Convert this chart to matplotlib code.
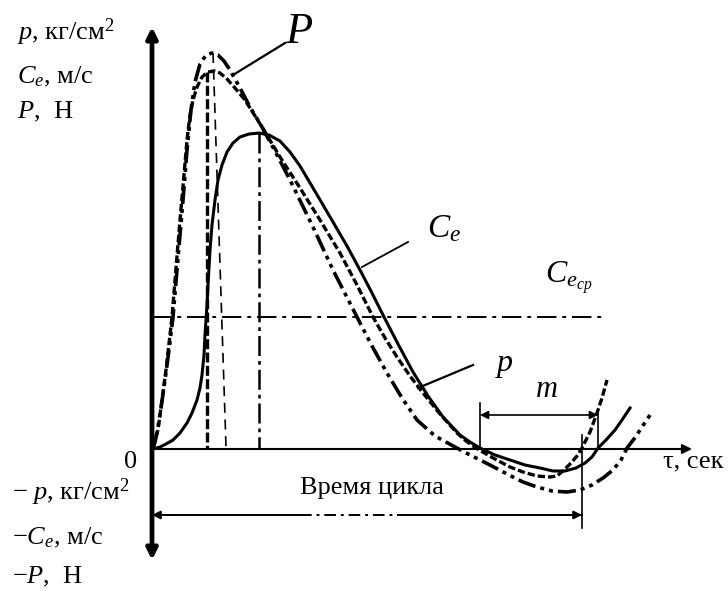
import matplotlib
matplotlib.use("Agg")
import matplotlib.pyplot as plt

plt.rcParams['font.family'] = ['Liberation Serif', 'DejaVu Serif']
plt.rcParams['mathtext.fontset'] = 'custom'
plt.rcParams['mathtext.rm'] = 'Liberation Serif'
plt.rcParams['mathtext.it'] = 'Liberation Serif:italic'
plt.rcParams['mathtext.bf'] = 'Liberation Serif:bold'

# ---- data (arbitrary units: time tau, value) ----
P_t = [0.1, 0.3, 0.5, 0.9, 1.3, 1.7, 2.1, 2.6, 3.1, 3.5, 3.9, 4.3, 4.8, 5.4, 6.0, 6.6, 7.2, 7.8,
       8.8, 9.8, 11.0, 12.4, 13.8, 16.1, 18.1, 20.5, 22.0, 23.5, 25.0, 26.5, 28.3, 30.3, 32.0,
       33.8, 35.5, 37.1, 38.5, 40.0, 41.5, 42.8, 44.0, 45.1, 46.1, 46.9, 47.5, 48.2, 48.8, 49.8]
P_v = [0.0, 0.7, 1.6, 4.1, 6.9, 9.9, 13.2, 19.1, 24.9, 29.9, 33.9, 36.7, 38.5, 39.4, 39.6, 39.4,
       38.8, 37.9, 36.1, 34.2, 32.2, 29.6, 26.9, 22.2, 17.9, 13.2, 10.3, 7.6, 5.1, 2.9, 1.3, 0.2,
       -0.7, -1.6, -2.5, -3.3, -3.8, -4.2, -4.3, -4.1, -3.6, -2.9, -2.1, -1.1, 0.1, 1.0, 1.9, 3.4]

Ce_t = [0.1, 0.3, 0.6, 1.0, 1.4, 2.0, 2.4, 2.8, 3.2, 3.5, 3.8, 4.1, 4.5, 5.0, 5.6, 6.2, 6.8, 7.5,
        8.3, 9.3, 11.0, 12.8, 14.8, 16.8, 18.8, 20.5, 22.1, 23.3, 24.5, 25.8, 27.1, 28.8, 30.5,
        31.4, 32.4, 34.1, 35.8, 37.1, 38.5, 39.8, 40.5, 41.2, 42.0, 42.5, 43.0, 43.8, 44.5, 45.0, 45.5]
Ce_v = [0.2, 0.9, 1.9, 4.9, 7.9, 13.2, 18.1, 22.9, 27.4, 30.9, 33.4, 34.9, 36.2, 37.2, 37.7, 37.8,
        37.6, 37.0, 36.1, 34.9, 32.2, 29.2, 26.1, 22.9, 19.6, 16.4, 13.2, 11.1, 9.2, 7.3, 5.6, 3.5,
        1.6, 0.8, 0.1, -0.9, -1.8, -2.3, -2.7, -2.8, -2.7, -2.1, -1.3, -0.7, 0.1, 1.7, 3.6, 5.1, 6.9]

p_t = [0.1, 0.8, 1.4, 2.1, 2.8, 3.5, 4.0, 4.5, 4.8, 5.0, 5.2, 5.3, 5.5, 5.6, 5.8, 6.0, 6.3, 6.6,
       7.0, 7.5, 8.1, 8.8, 9.7, 10.7, 11.7, 12.8, 13.8, 14.8, 16.4, 18.1, 19.5, 20.8, 22.0, 23.1,
       24.6, 26.1, 27.6, 29.1, 30.8, 31.8, 32.8, 34.3, 35.8, 37.3, 38.8, 40.1, 41.3, 42.4, 43.3,
       44.0, 44.6, 45.4, 46.3, 47.0, 47.8]
p_v = [0.0, 0.2, 0.5, 0.9, 1.6, 2.6, 3.6, 4.9, 6.1, 7.4, 9.4, 11.4, 14.4, 16.4, 19.9, 22.4, 24.9,
       26.9, 28.4, 29.7, 30.6, 31.2, 31.5, 31.6, 31.4, 30.8, 29.7, 28.3, 25.6, 22.7, 20.3, 17.9,
       15.6, 13.4, 10.5, 7.7, 5.3, 3.2, 1.4, 0.7, 0.1, -0.6, -1.1, -1.6, -1.9, -2.2, -2.2, -1.9,
       -1.4, -0.8, 0.1, 0.9, 1.9, 2.9, 4.1]

Ce_mean = 13.2          # C_e average level
Ce_peak_t, Ce_peak_v = 5.5, 37.7
P_peak_t, P_peak_v = 6.1, 39.6
p_peak_t, p_peak_v = 10.7, 31.6
m_start, m_end = 32.8, 44.6      # p negative interval
cycle_end = 43.0                 # cycle time

fig = plt.figure(figsize=(7.28, 5.91), dpi=100)
ax = fig.add_axes([0, 0, 1, 1])
ax.set_xlim(-15.2, 57.6)
ax.set_ylim(-14.2, 44.9)
ax.axis('off')

k = 'black'
# axes
ax.annotate('', xy=(0, 42.2), xytext=(0, -11.1),
            arrowprops=dict(arrowstyle='<|-|>', lw=3.4, color=k, mutation_scale=16,
                            shrinkA=0, shrinkB=0))
ax.annotate('', xy=(54.0, 0), xytext=(0, 0),
            arrowprops=dict(arrowstyle='-|>', lw=1.5, color=k, mutation_scale=14,
                            shrinkA=0, shrinkB=0))

# curves
ax.plot(P_t, P_v, color=k, lw=2.6, linestyle=(0, (5, 1.4, 1.1, 1.4, 1.1, 1.4)),
        solid_capstyle='butt', solid_joinstyle='round')
ax.plot(Ce_t, Ce_v, color=k, lw=2.4, linestyle=(0, (2.2, 0.9)), solid_joinstyle='round')
ax.plot(p_t, p_v, color=k, lw=2.2, solid_joinstyle='round')

# mean line
ax.plot([0, 45.0], [Ce_mean, Ce_mean], color=k, lw=1.4, linestyle=(0, (10, 3, 2, 3)))

# peak verticals
ax.plot([Ce_peak_t, Ce_peak_t], [Ce_peak_v, 0], color=k, lw=2.4, linestyle=(0, (3, 1)))
ax.plot([P_peak_t, 7.4], [P_peak_v, 0.2], color=k, lw=1.2, linestyle=(0, (6, 4)))
ax.plot([p_peak_t, p_peak_t], [p_peak_v, 0], color=k, lw=1.8, linestyle=(0, (8, 2, 1.5, 2)))

# m dimension
ax.plot([m_start, m_start], [0, 4.6], color=k, lw=1.2)
ax.plot([m_end, m_end], [0, 3.6], color=k, lw=1.2)
ax.annotate('', xy=(m_end, 3.4), xytext=(m_start, 3.4),
            arrowprops=dict(arrowstyle='<|-|>', lw=1.2, color=k, mutation_scale=12,
                            shrinkA=0, shrinkB=0))

# cycle dimension
yc = -6.6
ax.plot([cycle_end, cycle_end], [1.4, -7.9], color=k, lw=1.2)
ax.plot([0, 14.8], [yc, yc], color=k, lw=1.4)
ax.plot([14.8, 24.6], [yc, yc], color=k, lw=1.4, linestyle=(0, (6, 2.5, 1.5, 2.5)))
ax.plot([24.6, cycle_end], [yc, yc], color=k, lw=1.4)
ax.annotate('', xy=(0, yc), xytext=(2.5, yc),
            arrowprops=dict(arrowstyle='-|>', lw=1.4, color=k, mutation_scale=12,
                            shrinkA=0, shrinkB=0))
ax.annotate('', xy=(cycle_end, yc), xytext=(cycle_end - 2.5, yc),
            arrowprops=dict(arrowstyle='-|>', lw=1.4, color=k, mutation_scale=12,
                            shrinkA=0, shrinkB=0))

# leaders
ax.plot([13.3, 8.1], [40.6, 37.4], color=k, lw=1.6)
ax.plot([25.6, 21.0], [20.7, 18.2], color=k, lw=1.3)
ax.plot([32.1, 26.6], [8.4, 6.1], color=k, lw=1.6)

fs = 19
ax.text(-13.5, 40.9, '$p$, кг/см$^2$', fontsize=fs, va='baseline', ha='left')
ax.text(-13.5, 36.6, '$C_e$, м/с', fontsize=fs, va='baseline', ha='left')
ax.text(-13.5, 33.1, '$P$,  Н', fontsize=fs, va='baseline', ha='left')
ax.text(-2.8, -1.9, '0', fontsize=fs, va='baseline', ha='left')
ax.text(-14.0, -5.1, '$-$ $p$, кг/см$^2$', fontsize=fs, va='baseline', ha='left')
ax.text(-14.0, -9.5, '$-C_e$, м/с', fontsize=fs, va='baseline', ha='left')
ax.text(-14.0, -13.4, '$-P$,  Н', fontsize=fs, va='baseline', ha='left')
ax.text(14.8, -4.5, 'Время цикла', fontsize=fs, va='baseline', ha='left')
ax.text(51.1, -1.8, 'τ, сек', fontsize=fs, va='baseline', ha='left')
ax.text(13.3, 40.6, '$P$', fontsize=32, va='baseline', ha='left')
ax.text(27.5, 21.2, '$C_e$', fontsize=24, va='baseline', ha='left')
ax.text(39.3, 16.6, '$C_{e_{cp}}$', fontsize=23, va='baseline', ha='left')
ax.text(34.3, 7.8, '$p$', fontsize=23, va='baseline', ha='left')
ax.text(38.3, 5.2, '$m$', fontsize=22, va='baseline', ha='left')

fig.savefig('out.png', dpi=100)
